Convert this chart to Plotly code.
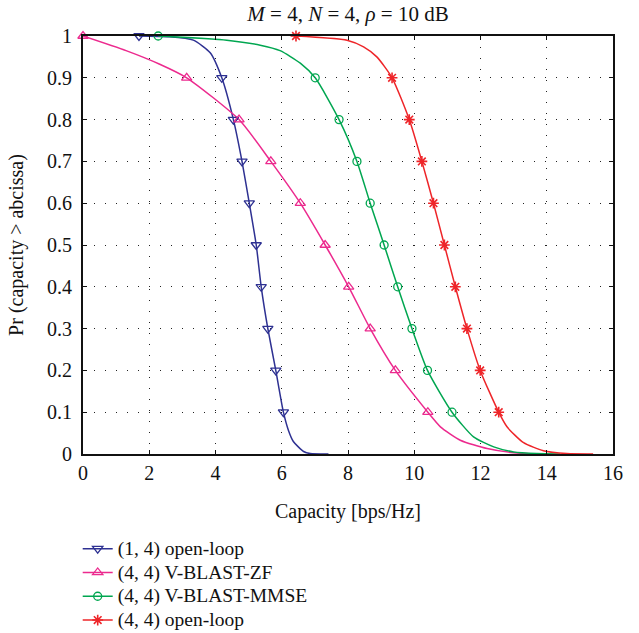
import plotly.graph_objects as go

# Probability levels where markers sit
levels = [1.0, 0.9, 0.8, 0.7, 0.6, 0.5, 0.4, 0.3, 0.2, 0.1]

# (1, 4) open-loop
ol14_x = [1.69, 2.6, 3.33, 3.84, 4.19, 4.54, 4.80, 5.02, 5.23, 5.38, 5.58, 5.82, 6.05,
          6.2, 6.35, 6.66, 6.86, 7.41]
ol14_p = [1.0, 0.998, 0.99, 0.96, 0.9, 0.8, 0.7, 0.6, 0.5, 0.4, 0.3, 0.2, 0.1,
          0.057, 0.03, 0.006, 0.001, 0.0]
ol14_mx = [1.69, 4.19, 4.54, 4.80, 5.02, 5.23, 5.38, 5.58, 5.82, 6.05]

# (4, 4) V-BLAST-ZF
zf_x = [0.0, 1.3, 2.3, 3.13, 4.71, 5.67, 6.56, 7.31, 8.02, 8.67, 9.43, 10.41,
        10.79, 11.39, 12.2, 13.0, 13.8]
zf_p = [1.0, 0.965, 0.933, 0.9, 0.8, 0.7, 0.6, 0.5, 0.4, 0.3, 0.2, 0.1,
        0.065, 0.033, 0.013, 0.003, 0.0]
zf_mx = [0.0, 3.13, 4.71, 5.67, 6.56, 7.31, 8.02, 8.67, 9.43, 10.41]

# (4, 4) V-BLAST-MMSE
mmse_x = [2.27, 4.34, 5.35, 5.95, 6.56, 7.01, 7.73, 8.27, 8.67, 9.09, 9.50, 9.93, 10.40,
          11.14, 11.79, 12.4, 13.0, 13.7, 14.4]
mmse_p = [1.0, 0.99, 0.978, 0.965, 0.935, 0.9, 0.8, 0.7, 0.6, 0.5, 0.4, 0.3, 0.2,
          0.1, 0.041, 0.017, 0.005, 0.001, 0.0]
mmse_mx = [2.27, 7.01, 7.73, 8.27, 8.67, 9.09, 9.50, 9.93, 10.40, 11.14]

# (4, 4) open-loop
ol44_x = [6.43, 7.97, 8.47, 8.87, 9.33, 9.85, 10.23, 10.58, 10.91, 11.24, 11.59, 11.99,
          12.55, 12.8, 13.3, 13.9, 14.6, 15.4]
ol44_p = [1.0, 0.99, 0.974, 0.95, 0.9, 0.8, 0.7, 0.6, 0.5, 0.4, 0.3, 0.2,
          0.1, 0.065, 0.027, 0.008, 0.001, 0.0]
ol44_mx = [6.43, 9.33, 9.85, 10.23, 10.58, 10.91, 11.24, 11.59, 11.99, 12.55]

x_ticks = [0, 2, 4, 6, 8, 10, 12, 14, 16]
y_ticks = [0, 0.1, 0.2, 0.3, 0.4, 0.5, 0.6, 0.7, 0.8, 0.9, 1]
y_labels = ["0", "0.1", "0.2", "0.3", "0.4", "0.5", "0.6", "0.7", "0.8", "0.9", "1"]

series = [
    ("(1, 4) open-loop", ol14_x, ol14_p, ol14_mx, "#2e3192", "triangle-down-open", 9, 1.3),
    ("(4, 4) V-BLAST-ZF", zf_x, zf_p, zf_mx, "#ec2a8e", "triangle-up-open", 9, 1.3),
    ("(4, 4) V-BLAST-MMSE", mmse_x, mmse_p, mmse_mx, "#00a650", "circle-open", 8, 1.3),
    ("(4, 4) open-loop", ol44_x, ol44_p, ol44_mx, "#ee2529", "asterisk-open", 9, 1.6),
]

FONT = "Liberation Serif"
TEXT = "#111111"

fig = go.Figure()

# smooth curves
for name, xs, ps, mxs, color, sym, size, mlw in series:
    fig.add_trace(go.Scatter(
        x=xs, y=ps, mode="lines",
        line=dict(color=color, width=1.5, shape="spline", smoothing=0.6),
        showlegend=False, hoverinfo="skip", cliponaxis=False,
    ))

# markers at each probability level
for name, xs, ps, mxs, color, sym, size, mlw in series:
    fig.add_trace(go.Scatter(
        x=mxs, y=levels, mode="markers", showlegend=False,
        marker=dict(symbol=sym, size=size, color=color, line=dict(color=color, width=mlw)),
        cliponaxis=False,
    ))

# legend entries with line + marker glyphs; rows stay compact, text drawn larger
for name, xs, ps, mxs, color, sym, size, mlw in series:
    fig.add_trace(go.Scatter(
        x=[None], y=[None], mode="lines+markers",
        name=f'<span style="font-size:19.5px">{name}</span>',
        line=dict(color=color, width=1.5),
        marker=dict(symbol=sym, size=size, color=color, line=dict(color=color, width=mlw)),
    ))

grid = dict(showgrid=True, gridcolor="#222222", gridwidth=1, griddash="1px,10px")
tickfont = dict(family=FONT, size=20, color=TEXT)

fig.update_layout(
    width=639, height=633,
    margin=dict(l=83, r=26, t=36, b=179, autoexpand=False),
    paper_bgcolor="white", plot_bgcolor="white",
    font=dict(family=FONT, size=20, color=TEXT),
    title=dict(
        text="<i>M</i> = 4, <i>N</i> = 4, <i>ρ</i> = 10 dB",
        x=0.5, xref="paper", xanchor="center", y=0.978, yref="container", yanchor="middle",
        font=dict(family=FONT, size=21, color=TEXT),
    ),
    xaxis=dict(
        range=[0, 16], tickvals=x_ticks, ticks="inside", ticklen=4, tickcolor=TEXT,
        showline=True, linecolor=TEXT, linewidth=2, mirror="ticks",
        zeroline=False, tickfont=tickfont,
        title=dict(text="Capacity [bps/Hz]", standoff=21, font=tickfont),
        **grid,
    ),
    yaxis=dict(
        range=[0, 1], tickvals=y_ticks, ticktext=y_labels, ticks="inside", ticklen=4,
        tickcolor=TEXT, tickfont=tickfont, ticklabelstandoff=5,
        showline=True, linecolor=TEXT, linewidth=2, mirror="ticks",
        zeroline=False,
        title=dict(text="Pr (capacity > abcissa)", standoff=18, font=tickfont),
        **grid,
    ),
    legend=dict(
        x=-0.01, xanchor="left", y=-0.186, yanchor="top",
        bgcolor="rgba(0,0,0,0)", font=dict(family=FONT, size=16, color=TEXT),
        tracegroupgap=0, itemwidth=30,
    ),
)

fig.write_html("out.html")
